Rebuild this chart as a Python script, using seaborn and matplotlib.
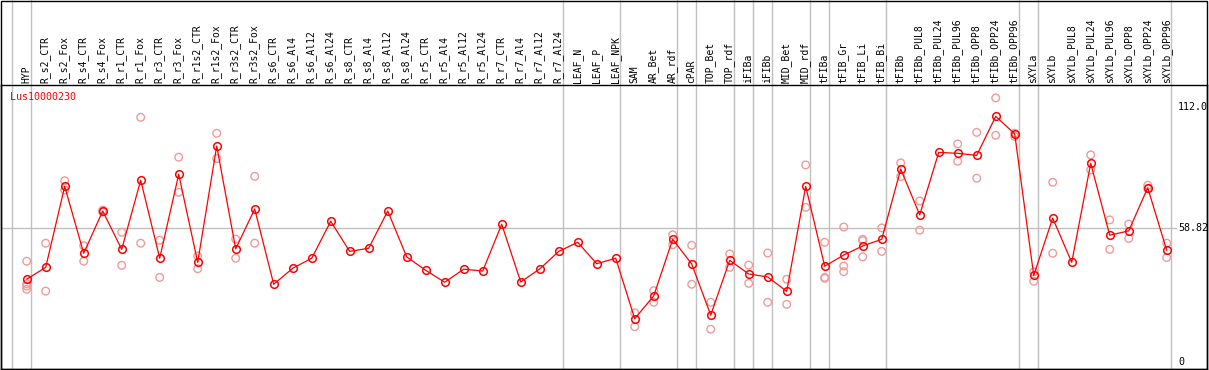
import matplotlib
matplotlib.use("Agg")
import matplotlib.pyplot as plt
from matplotlib.patches import Rectangle
import seaborn as sns
import pandas as pd

# categories (samples) and expression values
cats = ['HYP', 'R_s2_CTR', 'R_s2_Fox', 'R_s4_CTR', 'R_s4_Fox', 'R_r1_CTR', 'R_r1_Fox',
        'R_r3_CTR', 'R_r3_Fox', 'R_r1s2_CTR', 'R_r1s2_Fox', 'R_r3s2_CTR', 'R_r3s2_Fox',
        'R_s6_CTR', 'R_s6_Al4', 'R_s6_Al12', 'R_s6_Al24', 'R_s8_CTR', 'R_s8_Al4',
        'R_s8_Al12', 'R_s8_Al24', 'R_r5_CTR', 'R_r5_Al4', 'R_r5_Al12', 'R_r5_Al24',
        'R_r7_CTR', 'R_r7_Al4', 'R_r7_Al12', 'R_r7_Al24', 'LEAF_N', 'LEAF_P', 'LEAF_NPK',
        'SAM', 'AR_Bet', 'AR_rdf', 'cPAR', 'TOP_Bet', 'TOP_rdf', 'iFIBa', 'iFIBb',
        'MID_Bet', 'MID_rdf', 'tFIBa', 'tFIB_Gr', 'tFIB_Li', 'tFIB_Bi', 'tFIBb',
        'tFIBb_PUL8', 'tFIBb_PUL24', 'tFIBb_PUL96', 'tFIBb_OPP8', 'tFIBb_OPP24',
        'tFIBb_OPP96', 'sXYLa', 'sXYLb', 'sXYLb_PUL8', 'sXYLb_PUL24', 'sXYLb_PUL96',
        'sXYLb_OPP8', 'sXYLb_OPP24', 'sXYLb_OPP96']

mean_vals = [36.5, 41.7, 77.2, 47.9, 66.4, 49.6, 79.9, 45.7, 82.5, 43.9, 94.9, 49.8, 67.3,
             34.3, 41.3, 45.7, 61.9, 48.7, 50.1, 66.4, 46.3, 40.4, 35.2, 40.9, 40.1,
             60.6, 35.3, 41.0, 48.7, 52.7, 43.3, 45.7, 19.2, 29.2, 54.0, 43.2, 20.8,
             44.8, 38.8, 37.5, 31.2, 77.2, 42.2, 47.1, 51.1, 54.0, 84.8, 64.7, 92.1,
             91.7, 90.8, 107.9, 100.2, 38.2, 63.3, 43.9, 87.3, 55.8, 57.7, 76.6, 49.2]

# replicate values per sample (empty = none shown)
rep_vals = [
    [44.4, 34.5, 33.5, 32.1], [52.3, 31.3], [79.7, 75.6], [51.2, 44.4], [66.8, 66.0],
    [57.1, 42.6], [107.5, 52.3], [53.6, 37.3], [90.0, 74.6], [46.7, 41.1],
    [100.5, 89.4], [54.1, 45.7], [81.6, 52.3],
    [], [], [], [], [], [], [], [], [], [], [], [], [], [], [], [], [], [], [],
    [21.8, 15.7], [31.5, 26.4], [56.0, 51.6], [51.4, 34.3], [26.4, 14.6],
    [47.6, 41.7], [42.7, 34.7], [48.0, 26.4], [36.5, 25.5], [86.6, 68.0],
    [52.7, 37.3, 36.9], [59.4, 42.3, 39.8], [54.0, 53.4, 46.3], [59.0, 48.7],
    [87.5, 81.5], [70.8, 58.0], [], [95.8, 88.2], [100.9, 80.8], [116.0, 99.6],
    [100.5, 99.1], [39.7, 35.6], [79.0, 47.9], [], [91.0, 84.4], [62.5, 49.6],
    [60.7, 54.4], [77.7, 76.2], [52.3, 46.0],
]

gene = 'Lus10000230'
y_ticks = [112.0, 58.82, 0]
y_tick_labels = ['112.0', '58.82', '0']
# last sample index of each group (separator lines)
group_ends = [-1, 0, 28, 31, 34, 35, 37, 38, 39, 41, 42, 45, 52, 53, 60]

df_mean = pd.DataFrame({'idx': range(len(cats)), 'val': mean_vals})
df_rep = pd.DataFrame([(i, v) for i, vs in enumerate(rep_vals) for v in vs],
                      columns=['idx', 'val'])

sns.set_theme(style='white')
plt.rcParams['font.family'] = ['DejaVu Sans Mono']

W, H = 1209, 370
fig = plt.figure(figsize=(W / 100, H / 100), dpi=100)
ax = fig.add_axes([1 / W, 1 / H, 1206 / W, 284 / H])
ax.set_xlim(-1.353, 62.12)
ax.set_ylim(-2.85, 121.65)

# grid / separators
ax.axhline(58.82, xmin=0, xmax=0.974, color='#c0c0c0', lw=1, zorder=1)
for g in group_ends:
    ax.axvline(g + 0.21, ymin=0, ymax=369 / 284, color='#c0c0c0', lw=1,
               clip_on=False, zorder=1)

# replicates
sns.scatterplot(data=df_rep, x='idx', y='val', ax=ax, marker='o', s=30,
                color='#f0a0a0', linewidth=1.0, zorder=2, legend=False)
ax.collections[-1].set_facecolor('none')
ax.collections[-1].set_edgecolor('#f09a9a')

# mean line
sns.lineplot(data=df_mean, x='idx', y='val', ax=ax, color='red', lw=0.9,
             marker='o', markersize=5.5, markerfacecolor='none',
             markeredgecolor='red', markeredgewidth=1.1, zorder=3)

# sample labels on top
for i, c in enumerate(cats):
    ax.text(i - 0.03, 1 + 2 / 284, c, rotation=90, ha='center', va='bottom',
            fontsize=7, color='black', transform=ax.get_xaxis_transform(),
            clip_on=False)

# value labels on the right
for v, t in zip(y_ticks, y_tick_labels):
    ax.text(60.59, v, t, ha='left', va='center', fontsize=7.2, color='black')

ax.text(-0.88, 116.4, gene, ha='left', va='center', fontsize=7.2, color='red')

ax.set_xticks([])
ax.set_yticks([])
ax.set_xlabel('')
ax.set_ylabel('')
for s in ax.spines.values():
    s.set_color('black')
    s.set_linewidth(1)
    s.set_visible(True)

fig.add_artist(Rectangle((1 / W, 1 / H), 1206 / W, 368.5 / H, transform=fig.transFigure,
                         fill=False, ec='black', lw=1))

fig.savefig('out.png', dpi=100)
